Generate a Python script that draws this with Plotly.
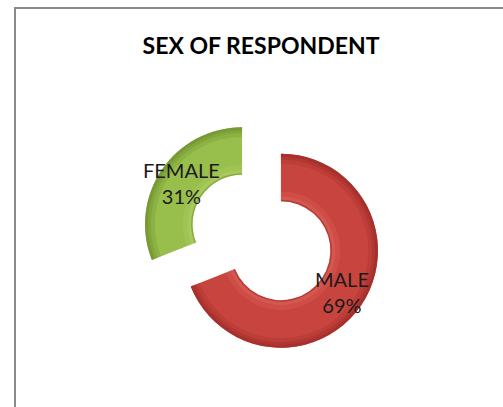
import math
import plotly.graph_objects as go

# Survey breakdown by sex
labels = ["MALE", "FEMALE"]
values = [69, 31]
colors = ["#C8453F", "#98BE4C"]
rim_dark = ["#9E2B27", "#6F9030"]
rim_light = ["#E06A62", "#B5D66E"]

W, H = 503, 407
cx, cy = 261.5, 237.5        # pie centre in px (from top-left)
R = 97                       # outer radius px
explode = 23.5               # px each slice is pulled out
hole = 0.51


def ring(r_out, r_in, cols, opacity=1.0, text=False):
    """One pie trace drawn as a ring between r_in and r_out (px), sharing the explode offset."""
    pull = explode / r_out
    half = r_out * (1 + pull)
    dom = dict(x=[(cx - half) / W, (cx + half) / W],
               y=[1 - (cy + half) / H, 1 - (cy - half) / H])
    return go.Pie(
        labels=labels, values=values, sort=False, direction="clockwise", rotation=0,
        hole=r_in / r_out, pull=[pull] * len(values), domain=dom,
        marker=dict(colors=cols, line=dict(width=0)), opacity=opacity,
        textinfo="none", showlegend=False,
        hoverinfo="label+percent" if text else "skip",
    )


fig = go.Figure()
r_in = R * hole
# base ring
fig.add_trace(ring(R, r_in, colors, text=True))
# bevel: darker bands toward the outer rim
for k, op in [(0.10, 0.25), (0.06, 0.35), (0.03, 0.5)]:
    fig.add_trace(ring(R, R * (1 - k), rim_dark, opacity=op))
# bevel: lighter bands near the inner edge
for k, op in [(0.10, 0.25), (0.05, 0.35)]:
    fig.add_trace(ring(r_in + R * k, r_in + R * 0.015, rim_light, opacity=op))
# bevel: thin dark line right at the inner edge
fig.add_trace(ring(r_in + R * 0.015, r_in, rim_dark, opacity=0.4))

# data labels at the middle of each exploded ring segment
total = sum(values)
r_mid = R * (1 + hole) / 2
annotations = []
start = 0.0
for lab, v in zip(labels, values):
    mid = math.radians((start + v / 2) / total * 360)
    start += v
    d = explode + r_mid
    px = cx + d * math.sin(mid)
    py = cy - d * math.cos(mid)
    annotations.append(dict(
        x=px / W, y=1 - py / H, xref="paper", yref="paper",
        text=f"{lab}<br>{round(100 * v / total)}%", showarrow=False,
        font=dict(family="Lato", size=20, color="#1a1a1a"),
        xanchor="center", yanchor="middle", align="center",
    ))

fig.update_layout(
    width=W, height=H,
    margin=dict(l=0, r=0, t=0, b=0),
    paper_bgcolor="white", plot_bgcolor="white",
    title=dict(text="<b>SEX OF RESPONDENT</b>", x=261 / W, xanchor="center",
               y=1 - 46 / H, yanchor="middle", yref="container",
               font=dict(family="Lato", size=23, color="black")),
    annotations=annotations,
    shapes=[dict(type="rect", xref="paper", yref="paper",
                 x0=15 / W, x1=1.05, y0=-0.05, y1=1 - 8 / H,
                 line=dict(color="#8a8a8a", width=2))],
)

fig.write_html("out.html")
